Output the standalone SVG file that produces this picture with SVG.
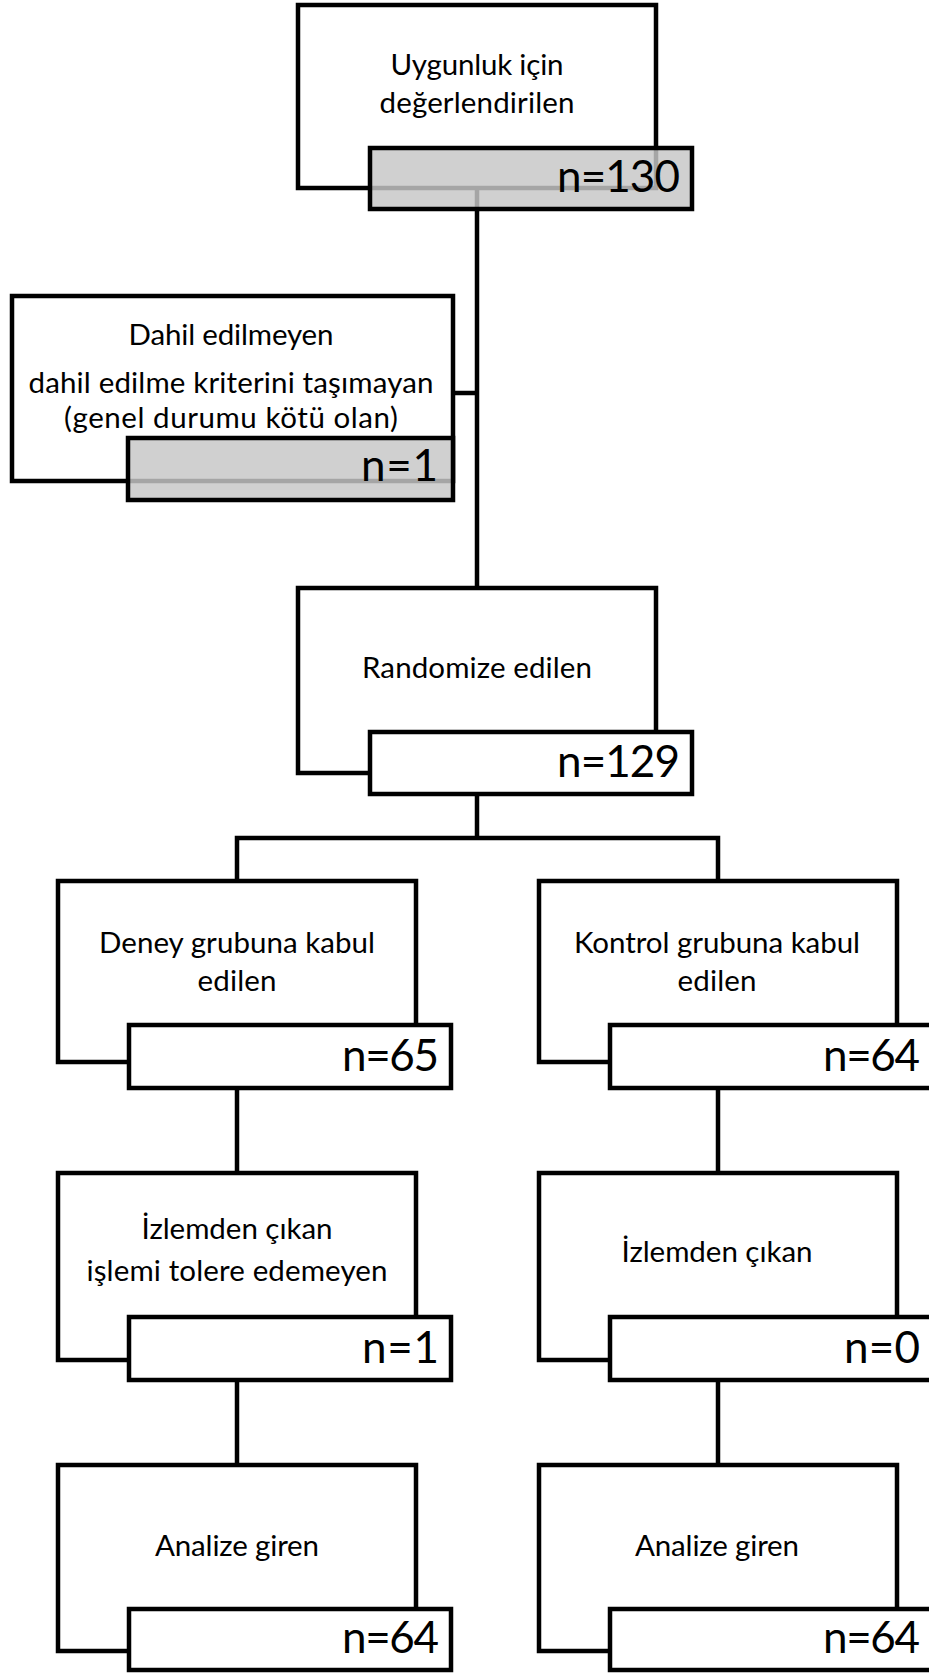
<svg xmlns="http://www.w3.org/2000/svg" width="929" height="1677" viewBox="0 0 929 1677">
<style>
.box{fill:#fff;stroke:#000;stroke-width:4.5;stroke-linejoin:miter}
.nbox{fill:#fff;stroke:#000;stroke-width:4.5}
.nboxg{fill:#c7c7c7;fill-opacity:0.83;stroke:#000;stroke-width:4.5}
.lbl{font-family:Lato,"Open Sans",sans-serif;font-size:29.5px;fill:#000;text-anchor:middle}
.num{font-family:Lato,"Open Sans",sans-serif;font-size:44px;fill:#000;text-anchor:end}
.conn{stroke:#000;stroke-width:4.5;fill:none}
</style>
<rect x="0" y="0" width="929" height="1677" fill="#fff"/>
<g id="connectors">
<line class="conn" x1="477" y1="188" x2="477" y2="588"/>
<line class="conn" x1="453" y1="393" x2="477" y2="393"/>
<line class="conn" x1="477" y1="794" x2="477" y2="838"/>
<polyline class="conn" points="237,881 237,838 718,838 718,881"/>
<line class="conn" x1="237" y1="1088" x2="237" y2="1173"/>
<line class="conn" x1="718" y1="1088" x2="718" y2="1173"/>
<line class="conn" x1="237" y1="1380" x2="237" y2="1465"/>
<line class="conn" x1="718" y1="1380" x2="718" y2="1465"/>
</g>
<g id="node-uygunluk">
<rect class="box" x="298" y="5" width="358" height="183"/>
<rect class="nboxg" x="370" y="148" width="322" height="61"/>
<text class="lbl" x="477" y="75" textLength="173">Uygunluk için</text>
<text class="lbl" x="477" y="113" textLength="195">değerlendirilen</text>
<text class="num" x="680" y="192" textLength="123">n=130</text>
</g>
<g id="node-dahil">
<rect class="box" x="12" y="296" width="441" height="185"/>
<rect class="nboxg" x="128" y="438" width="325" height="62"/>
<text class="lbl" x="231" y="345" textLength="205">Dahil edilmeyen</text>
<text class="lbl" x="231" y="393" textLength="405">dahil edilme kriterini taşımayan</text>
<text class="lbl" x="231" y="428" textLength="334">(genel durumu kötü olan)</text>
<text class="num" x="438" y="481" textLength="77">n=1</text>
</g>
<g id="node-randomize">
<rect class="box" x="298" y="588" width="358" height="185"/>
<rect class="nbox" x="370" y="732" width="322" height="62"/>
<text class="lbl" x="477" y="678" textLength="230">Randomize edilen</text>
<text class="num" x="680" y="777" textLength="123">n=129</text>
</g>
<g id="node-deney">
<rect class="box" x="58" y="881" width="358" height="181"/>
<rect class="nbox" x="129" y="1025" width="322" height="63"/>
<text class="lbl" x="237" y="953" textLength="276">Deney grubuna kabul</text>
<text class="lbl" x="237" y="991" textLength="79">edilen</text>
<text class="num" x="439" y="1071" textLength="97">n=65</text>
</g>
<g id="node-kontrol">
<rect class="box" x="539" y="881" width="358" height="181"/>
<rect class="nbox" x="610" y="1025" width="322" height="63"/>
<text class="lbl" x="717" y="953" textLength="286">Kontrol grubuna kabul</text>
<text class="lbl" x="717" y="991" textLength="79">edilen</text>
<text class="num" x="920" y="1071" textLength="97">n=64</text>
</g>
<g id="node-izlem-deney">
<rect class="box" x="58" y="1173" width="358" height="187"/>
<rect class="nbox" x="129" y="1317" width="322" height="63"/>
<text class="lbl" x="237" y="1239" textLength="191">İzlemden çıkan</text>
<text class="lbl" x="237" y="1281" textLength="301">işlemi tolere edemeyen</text>
<text class="num" x="439" y="1363" textLength="77">n=1</text>
</g>
<g id="node-izlem-kontrol">
<rect class="box" x="539" y="1173" width="358" height="187"/>
<rect class="nbox" x="610" y="1317" width="322" height="63"/>
<text class="lbl" x="717" y="1262" textLength="191">İzlemden çıkan</text>
<text class="num" x="920" y="1363" textLength="76">n=0</text>
</g>
<g id="node-analiz-deney">
<rect class="box" x="58" y="1465" width="358" height="186"/>
<rect class="nbox" x="129" y="1609" width="322" height="61"/>
<text class="lbl" x="237" y="1556" textLength="164">Analize giren</text>
<text class="num" x="439" y="1653" textLength="97">n=64</text>
</g>
<g id="node-analiz-kontrol">
<rect class="box" x="539" y="1465" width="358" height="186"/>
<rect class="nbox" x="610" y="1609" width="322" height="61"/>
<text class="lbl" x="717" y="1556" textLength="164">Analize giren</text>
<text class="num" x="920" y="1653" textLength="97">n=64</text>
</g>
</svg>
